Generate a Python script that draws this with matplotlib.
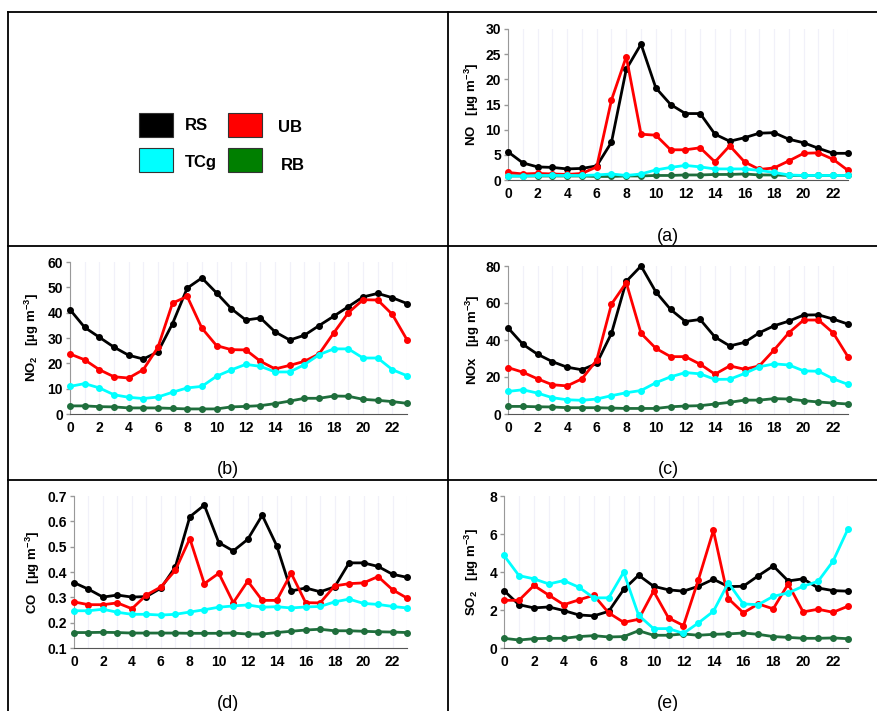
import matplotlib
matplotlib.use("Agg")
import matplotlib.pyplot as plt
from matplotlib.lines import Line2D
from matplotlib.patches import Rectangle

plt.rcParams["font.family"] = ["Liberation Sans", "DejaVu Sans"]
plt.rcParams["mathtext.fontset"] = "custom"
plt.rcParams["mathtext.rm"] = "Liberation Sans:bold"
plt.rcParams["mathtext.bf"] = "Liberation Sans:bold"
plt.rcParams["mathtext.it"] = "Liberation Sans:bold"

hours = list(range(24))

sites = ["RS", "UB", "TCg", "RB"]
line_colors = {"RS": "black", "UB": "#ff0000", "TCg": "#00ffff", "RB": "#1f6e3c"}
legend_colors = {"RS": "black", "UB": "#ff0000", "TCg": "#00ffff", "RB": "#007f00"}

# NO (a)
no_rs = [5.6, 3.4, 2.6, 2.5, 2.2, 2.3, 2.8, 7.5, 22.0, 27.0, 18.3, 15.0,
         13.2, 13.2, 9.1, 7.7, 8.4, 9.3, 9.4, 8.1, 7.4, 6.3, 5.3, 5.3]
no_ub = [1.5, 1.2, 1.3, 1.2, 1.1, 1.3, 2.6, 15.9, 24.5, 9.1, 8.9, 6.0,
         6.0, 6.4, 3.6, 6.8, 3.6, 2.1, 2.4, 3.8, 5.3, 5.4, 4.1, 1.9]
no_tcg = [0.8, 0.8, 0.9, 0.9, 0.9, 0.9, 1.0, 1.2, 0.9, 1.2, 2.0, 2.5,
          2.9, 2.6, 2.2, 2.2, 2.2, 1.9, 1.5, 1.0, 0.9, 0.9, 0.9, 0.9]
no_rb = [0.8, 0.8, 0.8, 0.8, 0.8, 0.8, 0.7, 0.7, 0.8, 0.8, 0.9, 0.9,
         1.0, 1.0, 1.1, 1.1, 1.2, 1.0, 1.0, 0.9, 0.9, 0.9, 0.9, 0.9]

# NO2 (b)
no2_rs = [41.2, 34.2, 30.3, 26.4, 23.2, 21.7, 24.5, 35.7, 49.7, 53.7, 47.8, 41.6,
          37.1, 37.9, 32.4, 29.2, 31.1, 34.9, 38.6, 42.4, 46.2, 47.6, 45.9, 43.6]
no2_ub = [23.7, 21.4, 17.5, 14.7, 14.2, 17.5, 26.3, 43.8, 46.4, 33.9, 27.0, 25.4,
          25.3, 20.8, 17.8, 19.2, 20.8, 23.7, 32.0, 40.0, 45.1, 45.0, 39.3, 29.3]
no2_tcg = [10.9, 12.0, 10.3, 7.6, 6.6, 6.1, 6.7, 8.6, 10.3, 10.9, 14.9, 17.4,
           19.6, 18.8, 16.6, 16.6, 19.5, 23.4, 25.7, 25.7, 22.1, 22.1, 17.5, 15.1]
no2_rb = [3.2, 3.2, 2.9, 2.8, 2.4, 2.4, 2.4, 2.2, 2.0, 2.0, 2.0, 2.8,
          3.0, 3.3, 4.1, 5.1, 6.2, 6.2, 7.1, 7.0, 5.8, 5.4, 4.9, 4.2]

# NOx (c)
nox_rs = [46.6, 37.7, 32.3, 28.3, 25.3, 23.9, 27.3, 43.6, 71.7, 80.0, 66.0, 56.5,
          50.0, 51.1, 41.6, 36.8, 38.7, 43.9, 47.7, 50.2, 53.5, 53.6, 51.3, 48.6]
nox_ub = [25.1, 22.6, 19.0, 15.8, 15.2, 19.0, 29.1, 59.4, 71.0, 43.6, 35.5, 31.0,
          31.0, 26.9, 21.5, 26.0, 24.2, 26.0, 34.6, 43.9, 50.8, 50.8, 43.8, 30.9]
nox_tcg = [12.2, 13.1, 11.3, 8.8, 7.7, 7.4, 8.1, 9.9, 11.5, 12.7, 16.9, 20.1,
           22.4, 21.7, 18.7, 18.8, 21.9, 25.5, 27.1, 26.5, 23.3, 23.1, 19.0, 16.0]
nox_rb = [4.1, 4.1, 3.9, 3.8, 3.4, 3.4, 3.4, 3.2, 3.0, 3.0, 3.0, 3.9,
          4.3, 4.5, 5.4, 6.3, 7.5, 7.5, 8.3, 8.1, 7.2, 6.5, 5.9, 5.4]

# CO (d)
co_rs = [0.358, 0.332, 0.301, 0.309, 0.301, 0.303, 0.336, 0.420, 0.618, 0.664, 0.516, 0.483,
         0.529, 0.624, 0.504, 0.325, 0.337, 0.322, 0.341, 0.436, 0.436, 0.422, 0.391, 0.379]
co_ub = [0.282, 0.271, 0.271, 0.278, 0.255, 0.309, 0.341, 0.407, 0.532, 0.354, 0.395, 0.279,
         0.364, 0.288, 0.288, 0.395, 0.279, 0.278, 0.345, 0.354, 0.357, 0.382, 0.330, 0.297]
co_tcg = [0.247, 0.247, 0.253, 0.241, 0.233, 0.233, 0.230, 0.233, 0.242, 0.251, 0.261, 0.266,
          0.270, 0.261, 0.263, 0.258, 0.262, 0.264, 0.282, 0.293, 0.276, 0.272, 0.264, 0.258]
co_rb = [0.161, 0.161, 0.162, 0.161, 0.159, 0.159, 0.159, 0.159, 0.158, 0.158, 0.158, 0.159,
         0.155, 0.155, 0.161, 0.166, 0.171, 0.174, 0.168, 0.168, 0.166, 0.164, 0.163, 0.161]

# SO2 (e)
so2_rs = [3.02, 2.28, 2.11, 2.16, 1.97, 1.74, 1.69, 1.93, 3.08, 3.83, 3.25, 3.06,
          2.99, 3.25, 3.62, 3.23, 3.25, 3.80, 4.32, 3.53, 3.64, 3.16, 3.02, 2.99]
so2_ub = [2.51, 2.51, 3.29, 2.78, 2.28, 2.53, 2.78, 1.85, 1.35, 1.51, 2.99, 1.58,
          1.18, 3.60, 6.19, 2.60, 1.85, 2.32, 2.06, 3.37, 1.90, 2.04, 1.88, 2.20]
so2_tcg = [4.87, 3.81, 3.64, 3.37, 3.55, 3.20, 2.64, 2.64, 3.99, 1.72, 1.02, 1.02,
           0.77, 1.32, 1.93, 3.43, 2.32, 2.28, 2.72, 2.90, 3.25, 3.51, 4.57, 6.27]
so2_rb = [0.51, 0.42, 0.49, 0.51, 0.51, 0.60, 0.65, 0.58, 0.60, 0.91, 0.67, 0.67,
          0.74, 0.67, 0.72, 0.74, 0.79, 0.72, 0.60, 0.56, 0.51, 0.51, 0.53, 0.49]

W, H = 878, 711
fig = plt.figure(figsize=(W / 100, H / 100), dpi=100)


def px_axes(left, top, right, bottom):
    return fig.add_axes([left / W, 1 - bottom / H, (right - left) / W, (bottom - top) / H])


def fig_line(x0, y0, x1, y1):
    fig.add_artist(Line2D([x0 / W, x1 / W], [1 - y0 / H, 1 - y1 / H],
                          color="black", lw=1.3, transform=fig.transFigure))


# table borders
fig_line(8, 12, W, 12)
fig_line(8, 246, W, 246)
fig_line(8, 480, W, 480)
fig_line(8, 12, 8, H)
fig_line(448, 12, 448, H)

panels = [
    # box (left, top, right, bottom), data, ylim, yticks, ylabel, tag, tag pos, ylabel x
    ((508, 29, 848, 180), (no_rs, no_ub, no_tcg, no_rb), (0, 30), [0, 5, 10, 15, 20, 25, 30],
     r"NO   [µg m$^{-3}$]", "(a)", (668, 237), 472, "{:g}"),
    ((70, 262, 407, 414), (no2_rs, no2_ub, no2_tcg, no2_rb), (0, 60), [0, 10, 20, 30, 40, 50, 60],
     r"NO$_2$   [µg m$^{-3}$]", "(b)", (228, 470), 32, "{:g}"),
    ((508, 266, 848, 414), (nox_rs, nox_ub, nox_tcg, nox_rb), (0, 80), [0, 20, 40, 60, 80],
     r"NOx   [µg m$^{-3}$]", "(c)", (668, 470), 473, "{:g}"),
    ((74, 496, 407, 648), (co_rs, co_ub, co_tcg, co_rb), (0.1, 0.7), [0.1, 0.2, 0.3, 0.4, 0.5, 0.6, 0.7],
     r"CO   [µg m$^{-3}$]", "(d)", (228, 703), 33, "{:.1f}"),
    ((504, 496, 848, 648), (so2_rs, so2_ub, so2_tcg, so2_rb), (0, 8), [0, 2, 4, 6, 8],
     r"SO$_2$   [µg m$^{-3}$]", "(e)", (668, 703), 472, "{:g}"),
]

draw_order = ["RB", "RS", "UB", "TCg"]

for box, series, ylim, yticks, ylabel, tag, tag_pos, ylab_x, fmt in panels:
    ax = px_axes(*box)
    data = dict(zip(sites, series))
    for s in draw_order:
        ax.plot(hours, data[s], color=line_colors[s], lw=2.0, marker="o", ms=4,
                clip_on=False, zorder=3)
    ax.set_xlim(0, 23)
    ax.set_ylim(*ylim)
    ax.set_xticks(range(0, 23, 2))
    ax.set_xticks(range(0, 24), minor=True)
    ax.set_yticks(yticks)
    ax.set_yticklabels([fmt.format(v) for v in yticks])
    ax.grid(True, axis="x", which="both", color="#f1f1f9", lw=0.9, zorder=0)
    for sp in ("top", "right"):
        ax.spines[sp].set_visible(False)
    ax.spines["left"].set_color("#999999")
    ax.spines["bottom"].set_color("#555555")
    ax.tick_params(axis="y", colors="#999999", labelcolor="black", length=3, width=1, pad=2)
    ax.tick_params(axis="x", which="both", length=0, pad=5)
    for lab in ax.get_xticklabels() + ax.get_yticklabels():
        lab.set_fontweight("bold")
        lab.set_fontsize(10)
    fig.text(ylab_x / W, 1 - (box[1] + box[3]) / 2 / H, ylabel, rotation=90,
             ha="center", va="center", fontsize=9.5, fontweight="bold")
    fig.text(tag_pos[0] / W, 1 - tag_pos[1] / H, tag, ha="center", va="center", fontsize=13)

# legend in the top-left cell
legend_items = [("RS", 139, 113, 185, 125), ("UB", 228, 113, 278, 127),
                ("TCg", 139, 148, 185, 162), ("RB", 228, 148, 281, 165)]
for name, bx, by, tx, ty in legend_items:
    fig.add_artist(Rectangle((bx / W, 1 - (by + 24) / H), 34 / W, 24 / H,
                             facecolor=legend_colors[name], edgecolor="#333333", lw=0.8,
                             transform=fig.transFigure))
    fig.text(tx / W, 1 - ty / H, name, ha="left", va="center", fontsize=12, fontweight="bold")

fig.savefig("out.png", dpi=100)
